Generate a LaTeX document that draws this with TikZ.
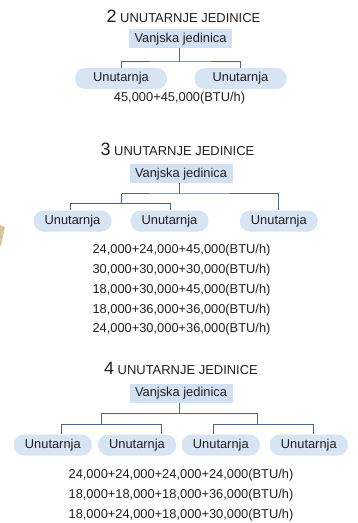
\documentclass[tikz,border=0pt]{standalone}
\usepackage{fontspec}
\setmainfont{Liberation Sans}
\definecolor{txt}{HTML}{231F20}
\definecolor{boxfill}{HTML}{D2E1F2}
\definecolor{pillfill}{HTML}{D6E4F3}
\definecolor{linec}{HTML}{46698F}
\definecolor{tan}{HTML}{D9C39B}
\begin{document}
\begin{tikzpicture}[x=1bp,y=-1bp,
  every node/.style={text=txt, font=\fontsize{12.9}{14}\selectfont},
  outer/.style={fill=boxfill, minimum width=103bp, minimum height=19bp, inner sep=0pt},
  pill/.style={fill=pillfill, rounded corners=10bp, minimum width=78bp, minimum height=21bp, inner sep=0pt},
  widepill/.style={pill, minimum width=92bp},
  link/.style={draw=linec, line width=1bp},
  title/.style={anchor=base, inner sep=0pt}]
\useasboundingbox (0,0) rectangle (357,523);
\fill[tan] (0,225) -- (5,227) -- (1,246) -- (0,246) -- cycle;
% ---------- 2 units
\node[title] (t1) at (183.5,22.7) {{\fontsize{18}{18}\selectfont 2} {\fontsize{13}{13}\selectfont UNUTARNJE JEDINICE}};
\node[outer] (v1) at (180.5,38.8) {Vanjska jedinica};
\node[widepill] (a1) at (121,78.5) {Unutarnja};
\node[widepill] (a2) at (240.5,78.5) {Unutarnja};
\coordinate (j1) at (179.5,62);
\draw[link] (v1.south -| j1) -- (j1);
\draw[link] (a1.north) |- (j1) -| (a2.north);
\node (n1) at (179.5,98) {45,000+45,000(BTU/h)};
% ---------- 3 units
\node[title] (t2) at (177.5,155.7) {{\fontsize{18}{18}\selectfont 3} {\fontsize{13}{13}\selectfont UNUTARNJE JEDINICE}};
\node[outer] (v2) at (181,173.8) {Vanjska jedinica};
\node[pill] (b1) at (72.5,221) {Unutarnja};
\node[pill] (b2) at (169.5,221) {Unutarnja};
\node[pill] (b3) at (278.8,221) {Unutarnja};
\coordinate (k1) at (179.5,194);
\coordinate (k2) at (121.7,194);
\coordinate (k3) at (121.7,203.5);
\coordinate (k4) at (70.7,203.5);
\coordinate (k5) at (170.7,203.5);
\draw[link] (v2.south -| k1) -- (k1);
\draw[link] (k2) -- (k1) -| (b3.north);
\draw[link] (k2) -- (k3);
\draw[link] (b1.north -| k4) -- (k4) -- (k5) -- (b2.north -| k5);
\node (m1) at (181.5,250) {24,000+24,000+45,000(BTU/h)};
\node (m2) at (181.5,270) {30,000+30,000+30,000(BTU/h)};
\node (m3) at (181.5,290) {18,000+30,000+45,000(BTU/h)};
\node (m4) at (181.5,310) {18,000+36,000+36,000(BTU/h)};
\node (m5) at (181.5,329.5) {24,000+30,000+36,000(BTU/h)};
% ---------- 4 units
\node[title] (t3) at (181,374.3) {{\fontsize{18}{18}\selectfont 4} {\fontsize{13}{13}\selectfont UNUTARNJE JEDINICE}};
\node[outer] (v3) at (181,393) {Vanjska jedinica};
\node[pill] (c1) at (52.8,445) {Unutarnja};
\node[pill] (c2) at (137,445) {Unutarnja};
\node[pill] (c3) at (220.8,445) {Unutarnja};
\node[pill] (c4) at (308.8,445) {Unutarnja};
\coordinate (h0) at (179.5,413.5);
\coordinate (hl) at (101.5,413.5);
\coordinate (hr) at (257,413.5);
\coordinate (hl2) at (101.5,424);
\coordinate (hr2) at (257,424);
\coordinate (q1) at (61,424);
\coordinate (q2) at (161,424);
\coordinate (q3) at (213.3,424);
\coordinate (q4) at (313.3,424);
\draw[link] (v3.south -| h0) -- (h0);
\draw[link] (hl2) -- (hl) -- (hr) -- (hr2);
\draw[link] (c1.north -| q1) -- (q1) -- (q2) -- (c2.north -| q2);
\draw[link] (c3.north -| q3) -- (q3) -- (q4) -- (c4.north -| q4);
\node (r1) at (181,475) {24,000+24,000+24,000+24,000(BTU/h)};
\node (r2) at (181,495.5) {18,000+18,000+18,000+36,000(BTU/h)};
\node (r3) at (181,515) {18,000+24,000+18,000+30,000(BTU/h)};
\end{tikzpicture}
\end{document}
